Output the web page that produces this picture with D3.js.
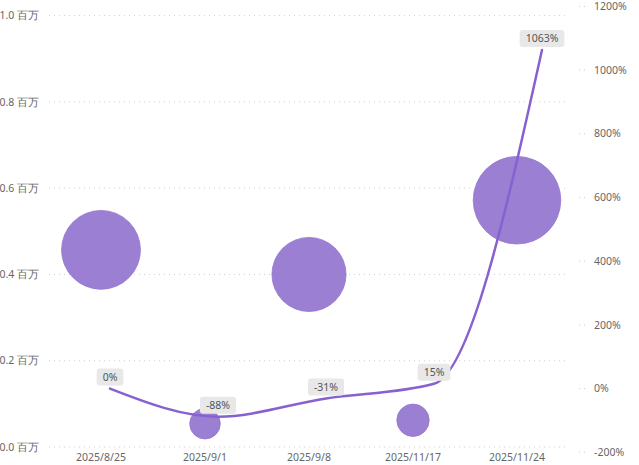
<!DOCTYPE html>
<html>
<head>
<meta charset="utf-8">
<script src="https://cdn.jsdelivr.net/npm/d3@7"></script>
<style>
  body { margin: 0; background: #fff; }
  text { font-family: 'Noto Sans', 'Open Sans', sans-serif; fill: #666; }
  .grid line { stroke: #cfcfcf; stroke-dasharray: 1,4; }
  .pct-label text { fill: #555; }
</style>
</head>
<body>
<div id="chart"></div>
<script>
// Data
const categories = ['2025/8/25', '2025/9/1', '2025/9/8', '2025/11/17', '2025/11/24'];
const amounts = [0.457, 0.054, 0.400, 0.062, 0.572];   // 百万, bubble position and size
const growth = [0, -88, -31, 15, 1063];                // %, line series
const leftTicks = [0, 0.2, 0.4, 0.6, 0.8, 1.0];
const rightTicks = [-200, 0, 200, 400, 600, 800, 1000, 1200];

const width = 639, height = 465;
const plotLeft = 49, plotRight = 569;

const svg = d3.select('#chart').append('svg')
    .attr('width', width)
    .attr('height', height);

// Scales
const xBand = d3.scaleBand()
    .domain(categories)
    .range([plotLeft, plotRight]);

// the line sits on its own, slightly wider, set of positions
const xLine = d3.scalePoint()
    .domain(categories)
    .range([110, 542]);

const yLeft = d3.scaleLinear()
    .domain([0, 1])
    .range([447, 15.6]);

const yRight = d3.scaleLinear()
    .domain([-200, 1200])
    .range([452.3, 6.4]);

const rScale = d3.scaleSqrt()
    .domain(d3.extent(amounts))
    .range([15.3, 43.8]);

// Gridlines for left axis
const grid = svg.append('g').attr('class', 'grid');
grid.selectAll('line')
    .data(leftTicks)
  .join('line')
    .attr('x1', plotLeft)
    .attr('x2', plotRight)
    .attr('y1', d => yLeft(d))
    .attr('y2', d => yLeft(d));

// Left axis labels
svg.append('g').selectAll('text')
    .data(leftTicks)
  .join('text')
    .attr('x', 39)
    .attr('y', d => yLeft(d))
    .attr('dy', '0.35em')
    .attr('text-anchor', 'end')
    .style('font-size', '10.5px')
    .text(d => `${d.toFixed(1)} 百万`);

// Right axis: short dotted ticks + labels
const rightAxis = svg.append('g').attr('class', 'grid');
rightAxis.selectAll('line')
    .data(rightTicks)
  .join('line')
    .attr('x1', 579)
    .attr('x2', 588)
    .attr('y1', d => yRight(d))
    .attr('y2', d => yRight(d));

rightAxis.selectAll('text')
    .data(rightTicks)
  .join('text')
    .attr('x', 594)
    .attr('y', d => yRight(d))
    .attr('dy', '0.35em')
    .style('font-size', '10.5px')
    .text(d => `${d}%`);

// X axis labels
svg.append('g').selectAll('text')
    .data(categories)
  .join('text')
    .attr('x', d => xBand(d) + xBand.bandwidth() / 2)
    .attr('y', 457)
    .attr('dy', '0.35em')
    .attr('text-anchor', 'middle')
    .style('font-size', '10.5px')
    .text(d => d);

// Bubbles
svg.append('g').selectAll('circle')
    .data(categories)
  .join('circle')
    .attr('cx', d => xBand(d) + xBand.bandwidth() / 2)
    .attr('cy', (d, i) => yLeft(amounts[i]))
    .attr('r', (d, i) => rScale(amounts[i]))
    .attr('fill', '#9b7fd3')
    .attr('stroke', '#9577d0')
    .attr('stroke-width', 0.8);

// Growth line
const line = d3.line()
    .x((d, i) => xLine(categories[i]))
    .y(d => yRight(d))
    .curve(d3.curveMonotoneX);

svg.append('path')
    .datum(growth)
    .attr('fill', 'none')
    .attr('stroke', '#8661cf')
    .attr('stroke-width', 2.5)
    .attr('stroke-linecap', 'round')
    .attr('d', line);

// Data labels above the line points
const labels = svg.append('g').attr('class', 'pct-label')
  .selectAll('g')
    .data(growth)
  .join('g')
    .attr('transform', (d, i) => `translate(${xLine(categories[i])},${yRight(d) - 3})`);

labels.append('text')
    .attr('y', -8.5)
    .attr('dy', '0.35em')
    .attr('text-anchor', 'middle')
    .style('font-size', '10.5px')
    .text(d => `${d}%`);

labels.insert('rect', 'text')
    .each(function() {
      const tw = this.parentNode.querySelector('text').getComputedTextLength();
      d3.select(this)
          .attr('x', -tw / 2 - 6)
          .attr('width', tw + 12);
    })
    .attr('y', -17)
    .attr('height', 17)
    .attr('rx', 3)
    .attr('fill', '#e8e8e8');
</script>
</body>
</html>
